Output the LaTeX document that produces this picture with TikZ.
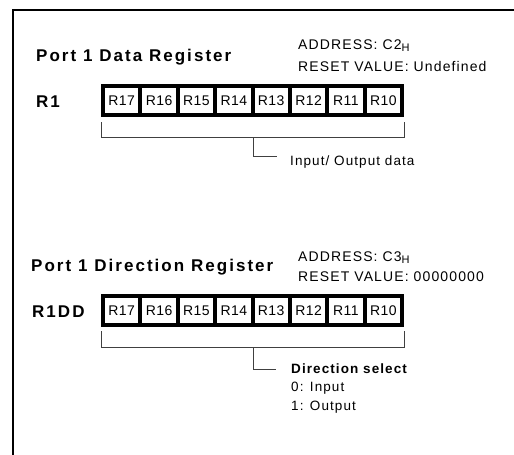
\documentclass[tikz,border=0pt]{standalone}
\usepackage{fontspec}
\setmainfont{Liberation Sans}
\newfontfamily\titlefont[LetterSpace=12]{Liberation Sans}
\newfontfamily\bodyfont[LetterSpace=8]{Liberation Sans}
\newfontfamily\cellfont[LetterSpace=3]{Liberation Sans}
\newcommand{\subH}{\raisebox{-2pt}{\fontsize{11}{12}\selectfont H}}
\begin{document}
\begin{tikzpicture}[x=1pt,y=-1pt]
\tikzset{
  frameline/.style={line width=2pt},
  title/.style={anchor=west, inner sep=0pt, font=\titlefont\bfseries\fontsize{17}{19}\selectfont},
  regname/.style={anchor=west, inner sep=0pt, font=\titlefont\bfseries\fontsize{17}{19}\selectfont},
  info/.style={anchor=west, inner sep=0pt, font=\bodyfont\fontsize{14}{16}\selectfont},
  note/.style={anchor=west, inner sep=0pt, font=\bodyfont\fontsize{13.5}{15}\selectfont},
  notebold/.style={anchor=west, inner sep=0pt, font=\bodyfont\bfseries\fontsize{13.5}{15}\selectfont},
  cell/.style={draw, line width=4pt, minimum width=37.375pt, minimum height=29pt, inner sep=0pt, font=\cellfont\fontsize{14}{15}\selectfont},
  bracket/.style={line width=0.6pt, draw=black!75},
}
\useasboundingbox (0,0) rectangle (514,455);
\coordinate (ftr) at (514,10);
\coordinate (ftl) at (13,10);
\coordinate (fbl) at (13,455);
\draw[frameline] (ftr) -- (ftl) -- (fbl);

% Register 1
\node[title] (t1) at (36,57) {Port 1 Data Register};
\node[info] (a1) at (298,46) {ADDRESS: C2\subH};
\node[info] (v1) at (298,66) {RESET VALUE: Undefined};
\node[regname] (n1) at (36,102) {R1};
\foreach \b [count=\i from 0] in {17,16,15,14,13,12,11,10} {
  \node[cell] (c1\i) at ({103+37.375*(\i+0.5)},100.5) {R\b};
}
\coordinate (b1l) at (101,122);
\coordinate (b1lb) at (101,137);
\coordinate (b1r) at (404,122);
\coordinate (b1rb) at (404,137);
\coordinate (b1m) at (253,137);
\coordinate (b1mb) at (253,156);
\coordinate (b1e) at (277,156);
\draw[bracket] (b1l) -- (b1lb) -- (b1rb) -- (b1r);
\draw[bracket] (b1m) -- (b1mb) -- (b1e);
\node[note] (d1) at (290,162) {Input/ Output data};

% Register 2
\node[title] (t2) at (31,267) {Port 1 Direction Register};
\node[info] (a2) at (298,258) {ADDRESS: C3\subH};
\node[info] (v2) at (298,277) {RESET VALUE: 00000000};
\node[regname] (n2) at (32,312) {R1DD};
\foreach \b [count=\i from 0] in {17,16,15,14,13,12,11,10} {
  \node[cell] (c2\i) at ({103+37.375*(\i+0.5)},310.5) {R\b};
}
\coordinate (b2l) at (101,331);
\coordinate (b2lb) at (101,347);
\coordinate (b2r) at (404,331);
\coordinate (b2rb) at (404,347);
\coordinate (b2m) at (253,347);
\coordinate (b2mb) at (253,369);
\coordinate (b2e) at (276,369);
\draw[bracket] (b2l) -- (b2lb) -- (b2rb) -- (b2r);
\draw[bracket] (b2m) -- (b2mb) -- (b2e);
\node[notebold] (d2) at (291,369) {Direction select};
\node[note] (d3) at (291,388) {0: Input};
\node[note] (d4) at (291,407) {1: Output};
\end{tikzpicture}
\end{document}
